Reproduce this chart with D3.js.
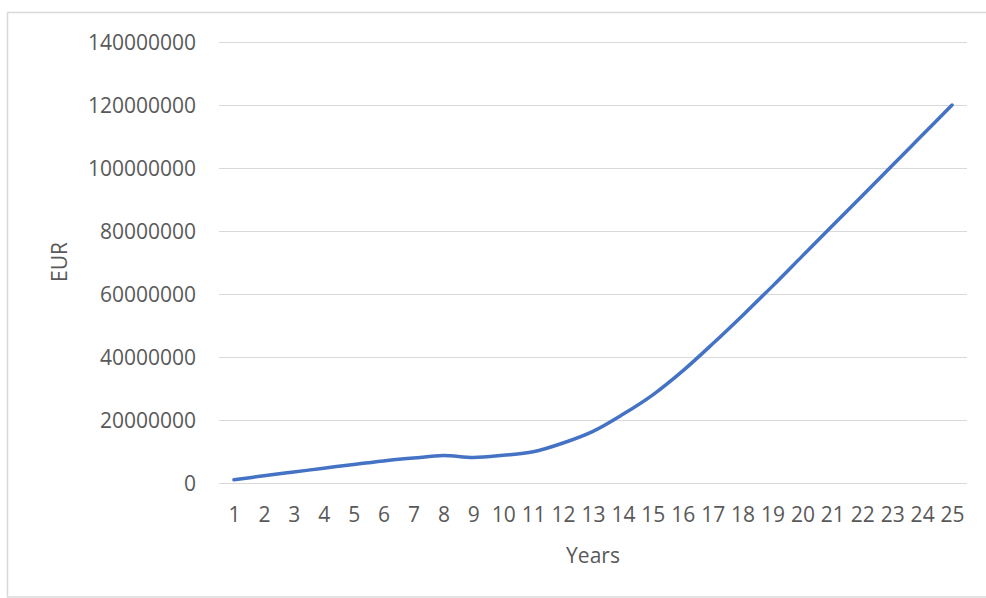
<!DOCTYPE html>
<html>
<head>
<meta charset="utf-8">
<script src="https://cdn.jsdelivr.net/npm/d3@7"></script>
<style>
  html, body { margin: 0; padding: 0; background: #ffffff; }
  svg { display: block; }
  text { font-family: "Open Sans", "Noto Sans", sans-serif; fill: #595959; }
</style>
</head>
<body>
<svg id="chart" width="986" height="598"></svg>
<script>
// Cumulative value in EUR by year
const years = [1, 2, 3, 4, 5, 6, 7, 8, 9, 10, 11, 12, 13, 14, 15, 16, 17, 18, 19, 20, 21, 22, 23, 24, 25];
const values = [
  1000000, 2300000, 3500000, 4700000, 5900000, 7000000, 7900000, 8700000, 8100000, 8800000,
  9900000, 12700000, 16400000, 21800000, 28000000, 35600000, 44200000, 53200000, 62500000,
  72100000, 81700000, 91200000, 100800000, 110400000, 120000000
];
const yTicks = [0, 20000000, 40000000, 60000000, 80000000, 100000000, 120000000, 140000000];
const xTitle = "Years";
const yTitle = "EUR";

const svg = d3.select("#chart");
const W = 986, H = 598;
const plot = { left: 219, right: 967, top: 42, bottom: 483 };

// Chart frame
svg.append("rect")
  .attr("x", 7.5).attr("y", 12.5)
  .attr("width", W + 10).attr("height", H - 13.5)
  .attr("fill", "#ffffff")
  .attr("stroke", "#d9d9d9").attr("stroke-width", 1.5);

const x = d3.scalePoint().domain(years).range([plot.left, plot.right]).padding(0.5);
const y = d3.scaleLinear().domain([0, 140000000]).range([plot.bottom, plot.top]);

// Horizontal gridlines
svg.append("g")
  .selectAll("line")
  .data(yTicks)
  .join("line")
  .attr("x1", plot.left).attr("x2", plot.right)
  .attr("y1", d => Math.round(y(d)) + 0.5).attr("y2", d => Math.round(y(d)) + 0.5)
  .attr("stroke", "#d9d9d9").attr("stroke-width", 1);

// Y axis labels
const yAxis = d3.axisLeft(y).tickValues(yTicks).tickFormat(d3.format("d")).tickSize(0).tickPadding(0);
const gy = svg.append("g").attr("transform", `translate(${plot.left - 23},0)`).call(yAxis);
gy.select(".domain").remove();
gy.selectAll("text")
  .attr("font-size", 21).attr("fill", "#595959")
  .attr("font-family", "'Open Sans', sans-serif")
  .attr("dy", "0.36em");

// X axis labels
const xAxis = d3.axisBottom(x).tickSize(0).tickPadding(0);
const gx = svg.append("g").attr("transform", `translate(0,${plot.bottom})`).call(xAxis);
gx.select(".domain").remove();
gx.selectAll("text")
  .attr("font-size", 21).attr("fill", "#595959")
  .attr("font-family", "'Open Sans', sans-serif")
  .attr("y", 39).attr("dy", 0);

// Axis titles
svg.append("text")
  .attr("x", (plot.left + plot.right) / 2).attr("y", 563)
  .attr("text-anchor", "middle")
  .attr("font-size", 21)
  .text(xTitle);

svg.append("text")
  .attr("transform", "translate(67,262) rotate(-90)")
  .attr("text-anchor", "middle")
  .attr("font-size", 21)
  .text(yTitle);

// Series line
const line = d3.line()
  .x((d, i) => x(years[i]))
  .y(d => y(d))
  .curve(d3.curveCatmullRom.alpha(0.5));

svg.append("path")
  .datum(values)
  .attr("d", line)
  .attr("fill", "none")
  .attr("stroke", "#4472c4")
  .attr("stroke-width", 3.5)
  .attr("stroke-linecap", "round")
  .attr("stroke-linejoin", "round");
</script>
</body>
</html>
